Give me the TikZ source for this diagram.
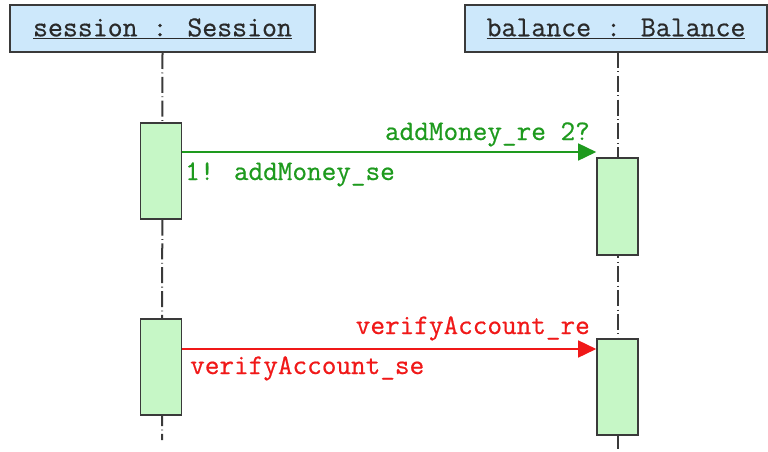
\documentclass[tikz,border=0pt]{standalone}
\usepackage{fontspec}
\newfontfamily\umlmono[FakeBold=0.6]{Latin Modern Mono}
\usetikzlibrary{arrows.meta}
\definecolor{headfill}{HTML}{CDE8FB}
\definecolor{actfill}{HTML}{C6F7C6}
\definecolor{edge}{HTML}{3A3A3A}
\definecolor{headtext}{HTML}{2A2A2A}
\definecolor{msggreen}{HTML}{1E9A1E}
\definecolor{msgred}{HTML}{F01818}
\tikzset{
  x=1pt, y=-1pt,
  lbl/.style={font=\umlmono\fontsize{28.4}{30}\selectfont, inner sep=0pt},
  header/.style={draw=edge, line width=2pt, fill=headfill, text=headtext, minimum height=47pt, inner sep=0pt, font=\umlmono\fontsize{29}{30}\selectfont},
  actbox/.style={draw=edge, line width=1.6pt, fill=actfill, minimum width=41pt, inner sep=0pt},
  lifeline/.style={draw=edge, line width=2pt, dash pattern=on 16pt off 3.5pt on 0.8pt off 3.5pt},
  msg/.style={line width=1.6pt, -{Triangle[length=18pt,width=17pt]}}
}
\begin{document}
\begin{tikzpicture}
\useasboundingbox (0,0) rectangle (768,452);
% object headers
\node[header, minimum width=305pt] (hs) at (162.5,28.5) {\underline{session : Session}};
\node[header, minimum width=302pt] (hb) at (616,28.5) {\underline{balance : Balance}};
% lifelines
\coordinate (se) at (162,440);
\coordinate (be) at (618,452);
\draw[lifeline] (hs.south) -- (se);
\draw[lifeline] (618,52) -- (be);
% activation bars
\node[actbox, minimum height=96pt] (s1) at (161,171) {};
\node[actbox, minimum height=96pt] (s2) at (161,367) {};
\node[actbox, minimum height=97pt] (b1) at (617.5,206.5) {};
\node[actbox, minimum height=96pt] (b2) at (617.5,387) {};
% messages
\coordinate (g0) at (s1.east |- 0,152);
\coordinate (g1) at (b1.west |- 0,152);
\draw[msg, msggreen] (g0) -- (g1);
\node[lbl, text=msggreen, anchor=base east] (gre) at (590,140) {addMoney\_re 2?};
\node[lbl, text=msggreen, anchor=base west] (gse) at (185,180) {1! addMoney\_se};
\coordinate (r0) at (s2.east |- 0,349);
\coordinate (r1) at (b2.west |- 0,349);
\draw[msg, msgred] (r0) -- (r1);
\node[lbl, text=msgred, anchor=base east] (rre) at (590,334) {verifyAccount\_re};
\node[lbl, text=msgred, anchor=base west] (rse) at (190,374) {verifyAccount\_se};
\end{tikzpicture}
\end{document}
